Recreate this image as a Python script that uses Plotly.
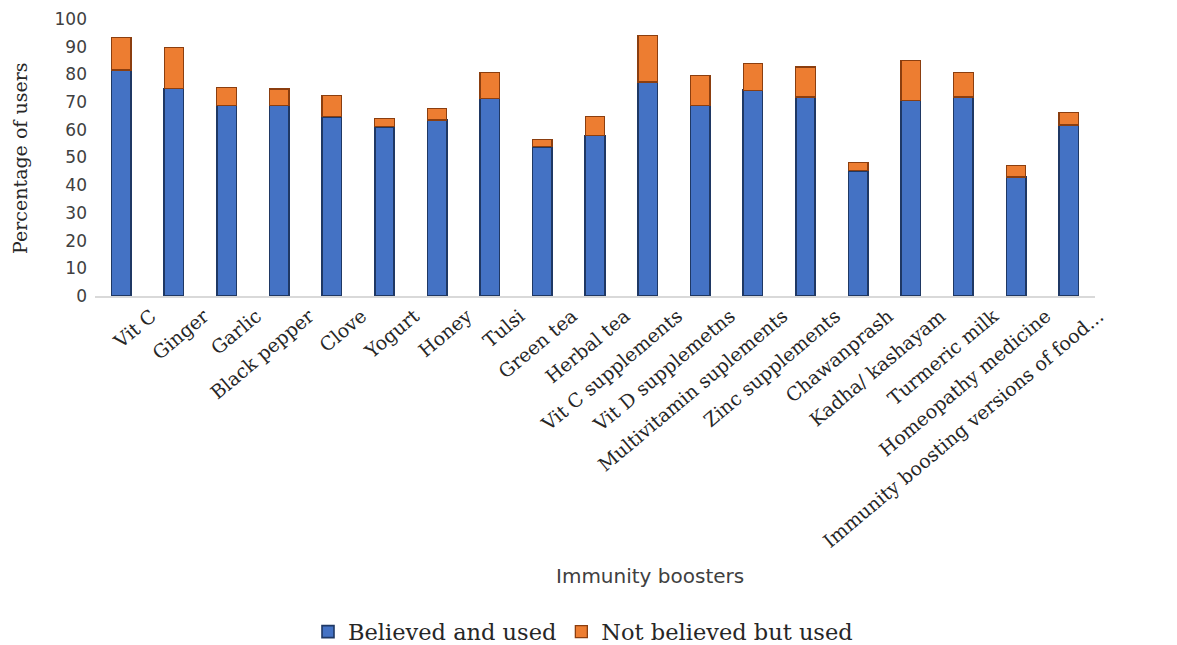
import plotly.graph_objects as go

categories = ["Vit C", "Ginger", "Garlic", "Black pepper", "Clove", "Yogurt", "Honey",
              "Tulsi", "Green tea", "Herbal tea", "Vit C supplements", "Vit D supplemetns",
              "Multivitamin suplements", "Zinc supplements", "Chawanprash",
              "Kadha/ kashayam", "Turmeric milk", "Homeopathy medicine",
              "Immunity boosting versions of food..."]
believed_and_used = [81.6, 74.9, 68.8, 68.8, 64.7, 61.1, 63.5, 71.3, 53.9, 58.0,
                     77.3, 68.8, 74.3, 71.8, 45.2, 70.7, 71.8, 43.0, 61.7]
not_believed_but_used = [11.8, 14.9, 6.5, 5.9, 7.6, 2.9, 4.1, 9.5, 2.7, 6.9,
                         16.8, 10.7, 9.6, 10.9, 3.0, 14.2, 9.0, 4.0, 4.6]
y_ticks = list(range(0, 101, 10))

fig = go.Figure()
fig.add_trace(go.Bar(
    x=categories, y=believed_and_used, name="Believed and used",
    marker=dict(color="#4472C4", line=dict(color="#1F3864", width=1.6)),
))
fig.add_trace(go.Bar(
    x=categories, y=not_believed_but_used, name="Not believed but used",
    marker=dict(color="#ED7D31", line=dict(color="#8B3E0F", width=1.3)),
))

fig.update_layout(
    barmode="stack",
    bargap=0.63,
    width=1177, height=645,
    margin=dict(l=95, r=82, t=19, b=349, autoexpand=False),
    paper_bgcolor="white", plot_bgcolor="white",
    showlegend=True,
    legend=dict(orientation="h", x=0.488, xanchor="center", y=-1.213, yanchor="middle",
                font=dict(family="DejaVu Serif", size=22.5, color="#262626"),
                itemwidth=30, traceorder="normal"),
    xaxis=dict(
        tickangle=-40, showline=True, linecolor="#D9D9D9", linewidth=1.5,
        showgrid=False, ticks="", automargin=False, ticklabelshift=30,
        tickfont=dict(family="DejaVu Serif", size=19, color="#262626"),
    ),
    yaxis=dict(
        range=[0, 100], tickvals=y_ticks, showgrid=False, showline=False,
        zeroline=False, ticks="", automargin=False, ticklabelstandoff=7,
        tickfont=dict(family="DejaVu Sans", size=17, color="#404040"),
    ),
    annotations=[
        dict(text="Immunity boosters", xref="paper", yref="paper",
             x=0.555, y=-1.011, xanchor="center", yanchor="middle", showarrow=False,
             font=dict(family="DejaVu Sans", size=20, color="#404040")),
        dict(text="Percentage of users", xref="paper", yref="paper",
             x=-0.075, y=0.495, xanchor="center", yanchor="middle", showarrow=False,
             textangle=-90,
             font=dict(family="DejaVu Serif", size=19, color="#262626")),
    ],
)

fig.write_html("out.html")
